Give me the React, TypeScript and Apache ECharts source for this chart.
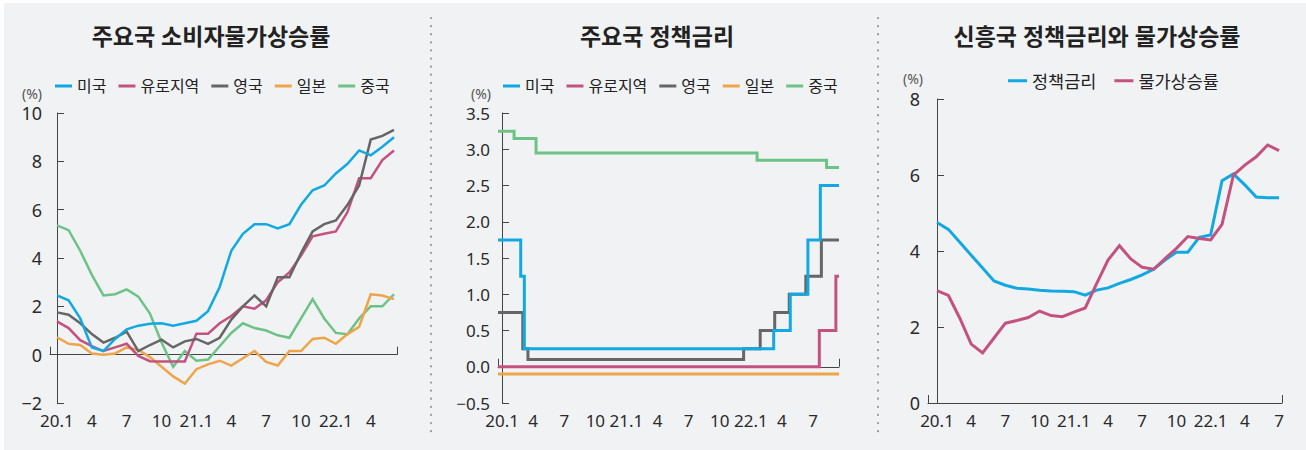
import React, { useEffect, useRef } from 'react';
import * as echarts from 'echarts';

const FONT = "'Noto Sans', 'Noto Sans CJK KR', sans-serif";
const C_US = '#12a9e2';
const C_EU = '#c4527f';
const C_UK = '#666666';
const C_JP = '#eea549';
const C_CN = '#6dc386';
const AXIS = '#444444';
const TXT = '#2a2a2a';

// ---------- Chart 1: CPI of major economies (monthly, 20.1 ~ 22.6) ----------
const cpiTickPos = [0, 3, 6, 9, 12, 15, 18, 21, 24, 27];
const cpiTickLabels = ['20.1', '4', '7', '10', '21.1', '4', '7', '10', '22.1', '4'];
const cpiUS = [2.45, 2.25, 1.5, 0.3, 0.15, 0.65, 1.05, 1.2, 1.28, 1.3, 1.2, 1.3, 1.4, 1.8, 2.8, 4.3, 5.0, 5.4, 5.4, 5.22, 5.4, 6.2, 6.8, 7.0, 7.5, 7.9, 8.45, 8.25, 8.6, 9.0];
const cpiEU = [1.38, 1.1, 0.6, 0.35, 0.15, 0.3, 0.45, -0.05, -0.27, -0.28, -0.28, -0.28, 0.87, 0.87, 1.3, 1.6, 2.0, 1.9, 2.25, 3.0, 3.4, 4.1, 4.9, 5.0, 5.1, 5.9, 7.3, 7.3, 8.05, 8.45];
const cpiUK = [1.75, 1.65, 1.3, 0.85, 0.5, 0.7, 0.95, 0.15, 0.4, 0.62, 0.3, 0.55, 0.65, 0.45, 0.7, 1.45, 2.0, 2.45, 2.0, 3.2, 3.2, 4.2, 5.1, 5.4, 5.55, 6.2, 7.0, 8.9, 9.05, 9.3];
const cpiJP = [0.72, 0.45, 0.4, 0.05, 0.0, 0.05, 0.3, 0.2, -0.1, -0.5, -0.9, -1.2, -0.6, -0.4, -0.25, -0.45, -0.15, 0.15, -0.3, -0.45, 0.15, 0.15, 0.65, 0.7, 0.45, 0.85, 1.15, 2.5, 2.45, 2.3];
const cpiCN = [5.35, 5.15, 4.3, 3.3, 2.45, 2.5, 2.7, 2.4, 1.7, 0.5, -0.5, 0.15, -0.25, -0.2, 0.35, 0.9, 1.3, 1.1, 1.0, 0.8, 0.7, 1.5, 2.3, 1.5, 0.9, 0.85, 1.5, 2.0, 2.0, 2.5];

// ---------- Chart 2: policy rates (step changes, x = months since 20.1) ----------
const rateTickPos = [0, 3, 6, 9, 12, 15, 18, 21, 24, 27, 30];
const rateTickLabels = ['20.1', '4', '7', '10', '21.1', '4', '7', '10', '22.1', '4', '7'];
const usRateX = [-0.39, 1.8, 2.15, 26.2, 27.8, 29.5, 30.7, 32.5];
const usRateY = [1.75, 1.25, 0.25, 0.5, 1.0, 1.75, 2.5, 2.5];
const euRateX = [-0.39, 30.6, 32.2, 32.5];
const euRateY = [0, 0.5, 1.25, 1.25];
const ukRateX = [-0.39, 2.0, 2.5, 23.3, 24.9, 26.3, 27.7, 29.3, 30.8, 32.5];
const ukRateY = [0.75, 0.25, 0.1, 0.25, 0.5, 0.75, 1.0, 1.25, 1.75, 1.75];
const jpRateX = [-0.39, 32.5];
const jpRateY = [-0.1, -0.1];
const cnRateX = [-0.39, 1.16, 3.28, 24.6, 31.3, 32.5];
const cnRateY = [3.25, 3.15, 2.95, 2.85, 2.75, 2.75];

// ---------- Chart 3: emerging economies (monthly, 20.1 ~ 22.7) ----------
const emTickPos = [0, 3, 6, 9, 12, 15, 18, 21, 24, 27, 30];
const emTickLabels = ['20.1', '4', '7', '10', '21.1', '4', '7', '10', '22.1', '4', '7'];
const emRate = [4.75, 4.57, 4.23, 3.89, 3.55, 3.21, 3.1, 3.02, 3.0, 2.97, 2.95, 2.94, 2.93, 2.84, 2.97, 3.03, 3.15, 3.25, 3.37, 3.52, 3.76, 3.97, 3.97, 4.36, 4.42, 5.85, 6.03, 5.74, 5.42, 5.4, 5.4];
const emCpi = [2.96, 2.83, 2.23, 1.55, 1.32, 1.71, 2.1, 2.17, 2.25, 2.42, 2.3, 2.27, 2.39, 2.5, 3.14, 3.76, 4.14, 3.79, 3.57, 3.52, 3.8, 4.07, 4.38, 4.33, 4.29, 4.7, 6.0, 6.26, 6.48, 6.79, 6.64];

const titles = ['주요국 소비자물가상승률', '주요국 정책금리', '신흥국 정책금리와 물가상승률'];
const countryNames = ['미국', '유로지역', '영국', '일본', '중국'];
const emNames = ['정책금리', '물가상승률'];

const monthly = (arr: number[]) => arr.map((v, i) => [i, v]);
const zipXY = (xs: number[], ys: number[]) => xs.map((x, i) => [x, ys[i]]);
const minusFmt = (digits: number) => (v: number) => (v < 0 ? '\u2212' + Math.abs(v).toFixed(digits) : v.toFixed(digits));

function labelAxis(grid: number, min: number, max: number, pos: number[], labels: string[]) {
  return {
    type: 'value', gridIndex: grid, min, max, position: 'bottom',
    axisLine: { show: false, onZero: false },
    axisTick: { show: false },
    splitLine: { show: false },
    axisLabel: {
      customValues: pos,
      formatter: (v: number) => {
        const k = pos.findIndex((p) => Math.abs(p - v) < 1e-6);
        return k >= 0 ? labels[k] : '';
      },
      fontSize: 17, color: TXT, fontFamily: FONT, margin: 9,
    },
  };
}

function lineAxis(grid: number) {
  return {
    type: 'value', gridIndex: grid, min: 0, max: 1, interval: 1, position: 'bottom',
    axisLine: { show: true, onZero: true, lineStyle: { color: AXIS, width: 1 } },
    axisTick: { show: true, inside: true, length: 8, lineStyle: { color: AXIS } },
    axisLabel: { show: false },
    splitLine: { show: false },
  };
}

function yAxis(grid: number, min: number, max: number, interval: number, digits: number, size: number) {
  return {
    type: 'value', gridIndex: grid, min, max, interval,
    axisLine: { show: true, lineStyle: { color: AXIS, width: 1 } },
    axisTick: { show: true, inside: true, length: 7, lineStyle: { color: AXIS } },
    axisLabel: { formatter: minusFmt(digits), fontSize: size, color: TXT, fontFamily: FONT, margin: 8 },
    splitLine: { show: false },
  };
}

function lineSeries(name: string, color: string, data: number[][], xi: number, yi: number, width: number, step?: string) {
  return {
    type: 'line', name, xAxisIndex: xi, yAxisIndex: yi, data,
    symbol: 'none', showSymbol: false, color, step: step || false,
    lineStyle: { color, width, join: 'miter' },
    emphasis: { disabled: true }, silent: true,
  };
}

function legend(left: number, top: number, names: string[], w: number, gap: number, size: number) {
  return {
    left, top, data: names, icon: 'rect', itemWidth: w, itemHeight: 3, itemGap: gap,
    selectedMode: false, textStyle: { fontSize: size, color: '#222', fontFamily: FONT },
  };
}

function App() {
  const ref = useRef<HTMLDivElement>(null);
  useEffect(() => {
    if (!ref.current) return;
    const chart = echarts.init(ref.current, null, { renderer: 'svg' });
    const dots = (x: number) => ({
      type: 'line', shape: { x1: x, y1: 18, x2: x, y2: 437 },
      style: { stroke: '#9a9a9a', lineWidth: 2.2, lineDash: [0.1, 8], lineCap: 'round' }, silent: true,
    });
    const txt = (x: number, y: number, text: string, size: number, bold: boolean, color: string) => ({
      type: 'text', x, y, silent: true,
      style: { text, fontSize: size, fontWeight: bold ? 'bold' : 'normal', fontFamily: FONT, fill: color, align: 'center', verticalAlign: 'middle' },
    });
    chart.setOption({
      animation: false,
      backgroundColor: 'transparent',
      grid: [
        { left: 50, top: 113, width: 347, height: 290 },
        { left: 498, top: 113, width: 341, height: 290 },
        { left: 928, top: 99, width: 354, height: 304 },
      ],
      xAxis: [
        labelAxis(0, -0.6, 29.26, cpiTickPos, cpiTickLabels),
        lineAxis(0),
        labelAxis(1, -0.39, 32.5, rateTickPos, rateTickLabels),
        lineAxis(1),
        labelAxis(2, -0.79, 30.26, emTickPos, emTickLabels),
        lineAxis(2),
      ],
      yAxis: [
        yAxis(0, -2, 10, 2, 0, 18),
        yAxis(1, -0.5, 3.5, 0.5, 1, 17),
        yAxis(2, 0, 8, 2, 0, 18),
      ],
      legend: [
        legend(50, 73, countryNames, 17, 12, 16),
        legend(498, 73, countryNames, 17, 12, 16),
        legend(1003, 67, emNames, 19, 18, 17.5),
      ],
      graphic: [
        dots(431),
        dots(878),
        txt(211, 36, titles[0], 23, true, '#222'),
        txt(657, 36, titles[1], 23, true, '#222'),
        txt(1097, 36, titles[2], 23, true, '#222'),
        txt(32, 93, '(%)', 14, false, '#555'),
        txt(481, 93, '(%)', 14, false, '#555'),
        txt(913, 78, '(%)', 14, false, '#555'),
      ],
      series: [
        lineSeries('중국', C_CN, monthly(cpiCN), 0, 0, 2.5),
        lineSeries('일본', C_JP, monthly(cpiJP), 0, 0, 2.5),
        lineSeries('유로지역', C_EU, monthly(cpiEU), 0, 0, 2.5),
        lineSeries('영국', C_UK, monthly(cpiUK), 0, 0, 2.5),
        lineSeries('미국', C_US, monthly(cpiUS), 0, 0, 2.5),

        lineSeries('중국', C_CN, zipXY(cnRateX, cnRateY), 2, 1, 3, 'end'),
        lineSeries('일본', C_JP, zipXY(jpRateX, jpRateY), 2, 1, 3, 'end'),
        lineSeries('유로지역', C_EU, zipXY(euRateX, euRateY), 2, 1, 3, 'end'),
        lineSeries('영국', C_UK, zipXY(ukRateX, ukRateY), 2, 1, 3, 'end'),
        lineSeries('미국', C_US, zipXY(usRateX, usRateY), 2, 1, 3, 'end'),

        lineSeries('정책금리', C_US, monthly(emRate), 4, 2, 3),
        lineSeries('물가상승률', C_EU, monthly(emCpi), 4, 2, 3),
      ],
    });
    return () => chart.dispose();
  }, []);
  return (
    <div style={{ position: 'fixed', left: 0, top: 0, width: 1306, height: 450, background: '#ffffff' }}>
      <div style={{ position: 'absolute', left: 4, top: 3, width: 1302, height: 447, background: '#f1f2f4' }} />
      <div ref={ref} style={{ position: 'absolute', left: 0, top: 0, width: 1306, height: 450 }} />
    </div>
  );
}

export default App;
